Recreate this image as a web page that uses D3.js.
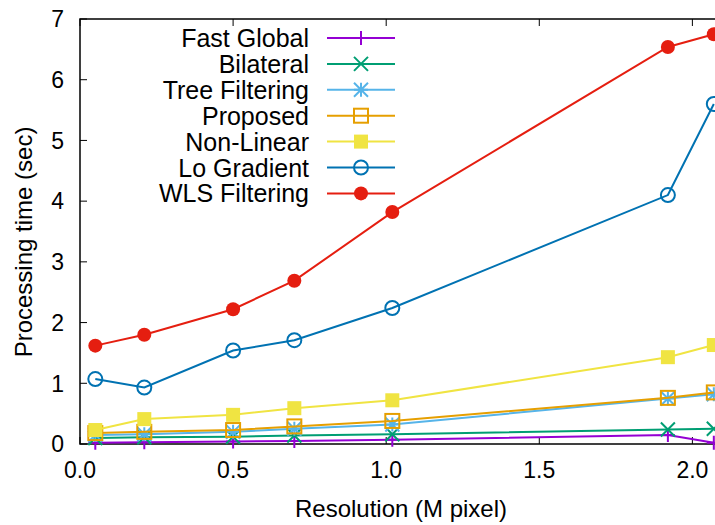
<!DOCTYPE html>
<html>
<head>
<style>
  body { margin: 0; overflow: hidden; background: #fff; }
  text { font-family: "Liberation Sans", Arial, sans-serif; }
</style>
</head>
<body>
<svg width="760" height="525"></svg>
<script src="https://cdnjs.cloudflare.com/ajax/libs/d3/7.8.5/d3.min.js"></script>
<script>
  var resolution = [0.05, 0.21, 0.5, 0.7, 1.02, 1.92, 2.07];

  var seriesNames = ["Fast Global", "Bilateral", "Tree Filtering", "Proposed", "Non-Linear", "Lo Gradient", "WLS Filtering"];
  var fastGlobal = [0.02, 0.03, 0.04, 0.05, 0.07, 0.15, 0.02];
  var bilateral = [0.10, 0.11, 0.12, 0.14, 0.16, 0.24, 0.25];
  var treeFiltering = [0.15, 0.16, 0.20, 0.25, 0.32, 0.75, 0.82];
  var proposed = [0.18, 0.20, 0.23, 0.29, 0.38, 0.76, 0.85];
  var nonLinear = [0.23, 0.41, 0.48, 0.59, 0.72, 1.43, 1.63];
  var loGradient = [1.07, 0.93, 1.54, 1.71, 2.24, 4.10, 5.60];
  var wlsFiltering = [1.62, 1.80, 2.22, 2.69, 3.82, 6.54, 6.75];

  var xTicks = [0, 0.5, 1.0, 1.5, 2.0];
  var yTicks = [0, 1, 2, 3, 4, 5, 6, 7];

  var colors = ["#9400d3", "#009e73", "#56b4e9", "#e69f00", "#f0e442", "#0072b2", "#e51e10"];
  var markers = ["plus", "cross", "star", "square", "filledSquare", "circle", "filledCircle"];
  var values = [fastGlobal, bilateral, treeFiltering, proposed, nonLinear, loGradient, wlsFiltering];

  var svg = d3.select("svg"),
      margin = {top: 19, left: 80},
      width = 643,
      height = 425,
      g = svg.append("g").attr("transform", "translate(" + margin.left + "," + margin.top + ")");

  var x = d3.scaleLinear().domain([0, 2.1]).range([0, width]);
  var y = d3.scaleLinear().domain([0, 7]).range([height, 0]);

  // ticks, inward and mirrored like gnuplot
  var tickLen = 7;
  xTicks.forEach(function(t) {
    g.append("line").attr("x1", x(t)).attr("x2", x(t)).attr("y1", height).attr("y2", height - tickLen)
      .attr("stroke", "#000").attr("stroke-width", 1);
    g.append("line").attr("x1", x(t)).attr("x2", x(t)).attr("y1", 0).attr("y2", tickLen)
      .attr("stroke", "#000").attr("stroke-width", 1);
    g.append("text").attr("x", x(t)).attr("y", height + 34).attr("text-anchor", "middle")
      .attr("font-size", 23).text(d3.format(".1f")(t));
  });
  yTicks.forEach(function(t) {
    g.append("line").attr("x1", 0).attr("x2", tickLen).attr("y1", y(t)).attr("y2", y(t))
      .attr("stroke", "#000").attr("stroke-width", 1);
    g.append("text").attr("x", -16).attr("y", y(t)).attr("dy", "0.36em").attr("text-anchor", "end")
      .attr("font-size", 23).text(t);
  });

  g.append("rect").attr("width", width).attr("height", height)
      .attr("fill", "none").attr("stroke", "#000").attr("stroke-width", 1.5);

  svg.append("text").attr("transform", "translate(32,242) rotate(-90)")
      .attr("text-anchor", "middle").attr("font-size", 24).text("Processing time (sec)");
  svg.append("text").attr("x", 401).attr("y", 517).attr("text-anchor", "middle")
      .attr("font-size", 24).text("Resolution (M pixel)");

  function drawMarker(sel, type, color, cx, cy) {
    var s = 7;
    if (type === "plus") {
      sel.append("path").attr("d", "M" + (cx - s) + "," + cy + "H" + (cx + s) + "M" + cx + "," + (cy - s) + "V" + (cy + s))
        .attr("stroke", color).attr("stroke-width", 2).attr("fill", "none");
    } else if (type === "cross") {
      sel.append("path").attr("d", "M" + (cx - s) + "," + (cy - s) + "L" + (cx + s) + "," + (cy + s) + "M" + (cx - s) + "," + (cy + s) + "L" + (cx + s) + "," + (cy - s))
        .attr("stroke", color).attr("stroke-width", 2).attr("fill", "none");
    } else if (type === "star") {
      sel.append("path").attr("d", "M" + (cx - s) + "," + cy + "H" + (cx + s) + "M" + cx + "," + (cy - s) + "V" + (cy + s) +
          "M" + (cx - s) + "," + (cy - s) + "L" + (cx + s) + "," + (cy + s) + "M" + (cx - s) + "," + (cy + s) + "L" + (cx + s) + "," + (cy - s))
        .attr("stroke", color).attr("stroke-width", 2).attr("fill", "none");
    } else if (type === "square") {
      sel.append("rect").attr("x", cx - s).attr("y", cy - s).attr("width", 2 * s).attr("height", 2 * s)
        .attr("stroke", color).attr("stroke-width", 2).attr("fill", "none");
    } else if (type === "filledSquare") {
      sel.append("rect").attr("x", cx - s).attr("y", cy - s).attr("width", 2 * s).attr("height", 2 * s)
        .attr("fill", color);
    } else if (type === "circle") {
      sel.append("circle").attr("cx", cx).attr("cy", cy).attr("r", s)
        .attr("stroke", color).attr("stroke-width", 2).attr("fill", "none");
    } else {
      sel.append("circle").attr("cx", cx).attr("cy", cy).attr("r", s).attr("fill", color);
    }
  }

  var line = d3.line()
      .x(function(d) { return x(d[0]); })
      .y(function(d) { return y(d[1]); });

  // draw in order so later series sit on top
  values.forEach(function(vals, i) {
    var data = resolution.map(function(r, j) { return [r, vals[j]]; });
    var sg = g.append("g");
    sg.append("path").datum(data)
      .attr("fill", "none")
      .attr("stroke", colors[i])
      .attr("stroke-width", 2)
      .attr("d", line);
    data.forEach(function(d) {
      drawMarker(sg, markers[i], colors[i], x(d[0]), y(d[1]));
    });
  });

  // legend
  var legend = svg.append("g");
  seriesNames.forEach(function(name, i) {
    var ly = 38 + i * 25.9;
    legend.append("text").attr("x", 309).attr("y", ly).attr("dy", "0.36em").attr("text-anchor", "end")
      .attr("font-size", 25).text(name);
    legend.append("line").attr("x1", 327).attr("x2", 395).attr("y1", ly).attr("y2", ly)
      .attr("stroke", colors[i]).attr("stroke-width", 2);
    drawMarker(legend, markers[i], colors[i], 361, ly);
  });
</script>
</body>
</html>
